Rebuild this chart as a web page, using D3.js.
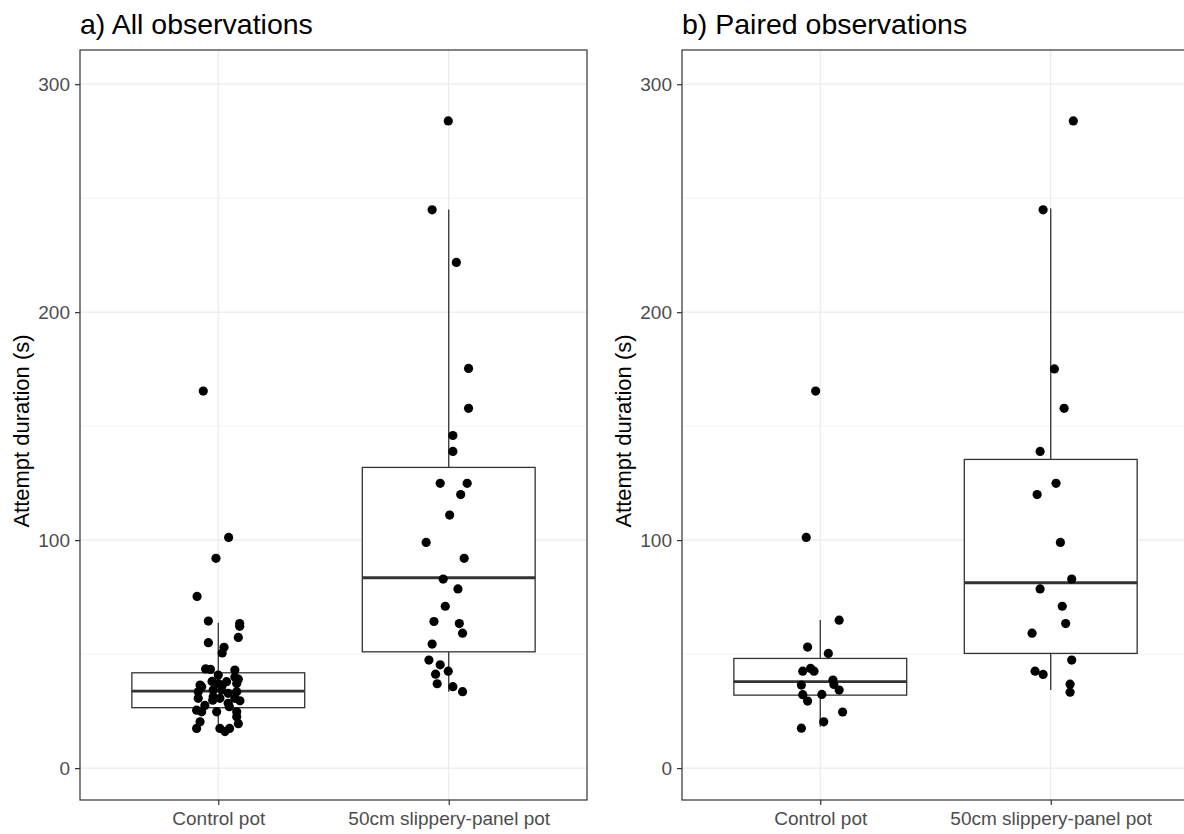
<!DOCTYPE html>
<html>
<head>
<meta charset="utf-8">
<script src="https://cdn.jsdelivr.net/npm/d3@7"></script>
<style>
  body { margin: 0; background: #fff; }
  text { font-family: "Liberation Sans", Arial, sans-serif; }
</style>
</head>
<body>
<div id="chart"></div>
<script>
// categories and axis ticks
const categories = ["Control pot", "50cm slippery-panel pot"];
const yTicks = [0, 100, 200, 300];
const yMinor = [50, 150, 250];
const panelTitles = ["a) All observations", "b) Paired observations"];

// a) all observations: values (s) and jitter (category units)
const allControlVals = [165.4, 101.2, 92, 75.3, 64.5, 63.4, 62.2, 57.3, 55, 53, 50.5, 43.5, 43.3, 43, 40.8, 40, 39,
  36.4, 37.1, 37.9, 37.1, 35.7, 36, 33.5, 34.2, 34.2, 32.8, 33.5, 30.6, 31.3, 30.6, 30.6, 29.8, 29.5, 28.4, 27.5,
  26.9, 25.4, 24.7, 24.7, 24.7, 22.5, 20.3, 19.5, 17.4, 17.4, 16, 17.4, 38];
const allControlJit = [-0.065, 0.045, -0.010, -0.092, -0.043, 0.093, 0.093, 0.087, -0.043, 0.025, 0.017, -0.055, -0.034, 0.072, 0, 0.072, 0.087,
  -0.079, 0, 0.036, 0.080, -0.072, 0.016, -0.087, -0.022, 0.015, 0.043, 0.080, -0.087, -0.022, 0.007, 0.072, -0.024, 0.094, 0.043, -0.058,
  0.048, -0.094, -0.072, -0.007, 0.080, 0.080, -0.079, 0.087, -0.094, 0.007, 0.029, 0.049, -0.027];
const allSlipVals = [283.9, 244.9, 221.8, 175.3, 157.8, 145.9, 138.9, 124.9, 124.9, 120, 111, 99, 92, 82.9, 78.6,
  71, 64.3, 63.4, 59.2, 54.4, 47.4, 45.3, 42.5, 41.2, 37, 35.7, 33.5];
const allSlipJit = [-0.002, -0.072, 0.033, 0.086, 0.086, 0.018, 0.018, -0.037, 0.080, 0.052, 0.004, -0.098, 0.067, -0.024, 0.040,
  -0.015, -0.064, 0.046, 0.060, -0.072, -0.086, -0.037, -0.002, -0.057, -0.050, 0.018, 0.060];

// b) paired observations
const pairControlVals = [165.4, 101.2, 64.9, 53.1, 50.3, 43.7, 42.5, 42.5, 38.6, 36.7, 36.4, 34.2, 32.2, 32.3, 29.4, 24.6, 20.3, 17.5];
const pairControlJit = [-0.020, -0.061, 0.082, -0.055, 0.035, -0.042, -0.076, -0.027, 0.055, 0.059, -0.082, 0.082, -0.076, 0.007, -0.055, 0.097, 0.015, -0.082];
const pairSlipVals = [283.9, 244.9, 175.1, 157.8, 138.9, 124.9, 120, 99, 82.9, 78.6, 71, 63.4, 59.2, 47.4, 42.5, 41.1, 36.8, 33.3];
const pairSlipJit = [0.098, -0.033, 0.016, 0.058, -0.046, 0.023, -0.059, 0.042, 0.091, -0.046, 0.050, 0.065, -0.081, 0.091, -0.068, -0.033, 0.084, 0.084];

// box stats: [lower whisker, Q1, median, Q3, upper whisker]
const allControlBox = [16, 26.5, 33.8, 41.8, 63.7];
const allSlipBox = [33.5, 51, 83.5, 131.9, 245];
const pairControlBox = [18.1, 32, 37.9, 48.1, 65];
const pairSlipBox = [34.2, 50.3, 81.3, 135.4, 245.5];

const width = 1184, height = 834;
const panelTop = 50, panelBottom = 800, panelW = 507;
const tickFont = "19px";

const svg = d3.select("#chart").append("svg")
    .attr("width", width)
    .attr("height", height)
    .style("background-color", "#fff");

const y = d3.scaleLinear().domain([-14, 315]).range([panelBottom, panelTop]);

function drawPanel(x0, title, groups) {
    const g = svg.append("g");
    const x = d3.scalePoint().domain(categories).range([x0, x0 + panelW]).padding(0.6);
    const unit = x.step();

    // grid
    g.selectAll(".minor").data(yMinor).join("line")
        .attr("x1", x0).attr("x2", x0 + panelW)
        .attr("y1", d => y(d)).attr("y2", d => y(d))
        .attr("stroke", "#ebebeb").attr("stroke-width", 0.6);
    g.selectAll(".major").data(yTicks).join("line")
        .attr("x1", x0).attr("x2", x0 + panelW)
        .attr("y1", d => y(d)).attr("y2", d => y(d))
        .attr("stroke", "#ebebeb").attr("stroke-width", 1.2);
    g.selectAll(".vmajor").data(categories).join("line")
        .attr("x1", d => x(d)).attr("x2", d => x(d))
        .attr("y1", panelTop).attr("y2", panelBottom)
        .attr("stroke", "#ebebeb").attr("stroke-width", 1.2);

    groups.forEach((grp, i) => {
        const cx = x(categories[i]);
        const [lo, q1, med, q3, hi] = grp.box;
        const bw = unit * 0.75;
        const bg = g.append("g").attr("stroke", "#333").attr("fill", "none");
        bg.append("line").attr("x1", cx).attr("x2", cx).attr("y1", y(q3)).attr("y2", y(hi)).attr("stroke-width", 1.3);
        bg.append("line").attr("x1", cx).attr("x2", cx).attr("y1", y(q1)).attr("y2", y(lo)).attr("stroke-width", 1.3);
        bg.append("rect").attr("x", cx - bw / 2).attr("width", bw)
            .attr("y", y(q3)).attr("height", y(q1) - y(q3))
            .attr("fill", "#fff").attr("stroke-width", 1.3);
        bg.append("line").attr("x1", cx - bw / 2).attr("x2", cx + bw / 2)
            .attr("y1", y(med)).attr("y2", y(med)).attr("stroke-width", 2.8);

        g.append("g").selectAll("circle").data(grp.vals).join("circle")
            .attr("cx", (d, j) => cx + grp.jit[j] * unit)
            .attr("cy", d => y(d))
            .attr("r", 4.6)
            .attr("fill", "#000");
    });

    // border
    g.append("rect").attr("x", x0).attr("y", panelTop).attr("width", panelW).attr("height", panelBottom - panelTop)
        .attr("fill", "none").attr("stroke", "#333").attr("stroke-width", 1.2);

    // y axis
    const yAxis = g.append("g").attr("transform", `translate(${x0},0)`)
        .call(d3.axisLeft(y).tickValues(yTicks).tickSize(5).tickPadding(5));
    yAxis.select(".domain").remove();
    yAxis.selectAll("line").attr("stroke", "#333").attr("stroke-width", 1.2);
    yAxis.selectAll("text").attr("fill", "#4d4d4d").style("font-size", tickFont)
        .style("font-family", "'Liberation Sans', Arial, sans-serif");

    // x axis
    const xAxis = g.append("g").attr("transform", `translate(0,${panelBottom})`)
        .call(d3.axisBottom(x).tickSize(5).tickPadding(7));
    xAxis.select(".domain").remove();
    xAxis.selectAll("line").attr("stroke", "#333").attr("stroke-width", 1.2);
    xAxis.selectAll("text").attr("fill", "#4d4d4d").style("font-size", tickFont)
        .style("font-family", "'Liberation Sans', Arial, sans-serif");

    g.append("text")
        .attr("transform", `translate(${x0 - 51},${(panelTop + panelBottom) / 2 + 6}) rotate(-90)`)
        .attr("text-anchor", "middle")
        .style("font-size", "22px")
        .text("Attempt duration (s)");

    g.append("text")
        .attr("x", x0).attr("y", 34)
        .style("font-size", "28.5px")
        .text(title);
}

drawPanel(80, panelTitles[0], [
    { vals: allControlVals, jit: allControlJit, box: allControlBox },
    { vals: allSlipVals, jit: allSlipJit, box: allSlipBox }
]);
drawPanel(682, panelTitles[1], [
    { vals: pairControlVals, jit: pairControlJit, box: pairControlBox },
    { vals: pairSlipVals, jit: pairSlipJit, box: pairSlipBox }
]);
</script>
</body>
</html>
